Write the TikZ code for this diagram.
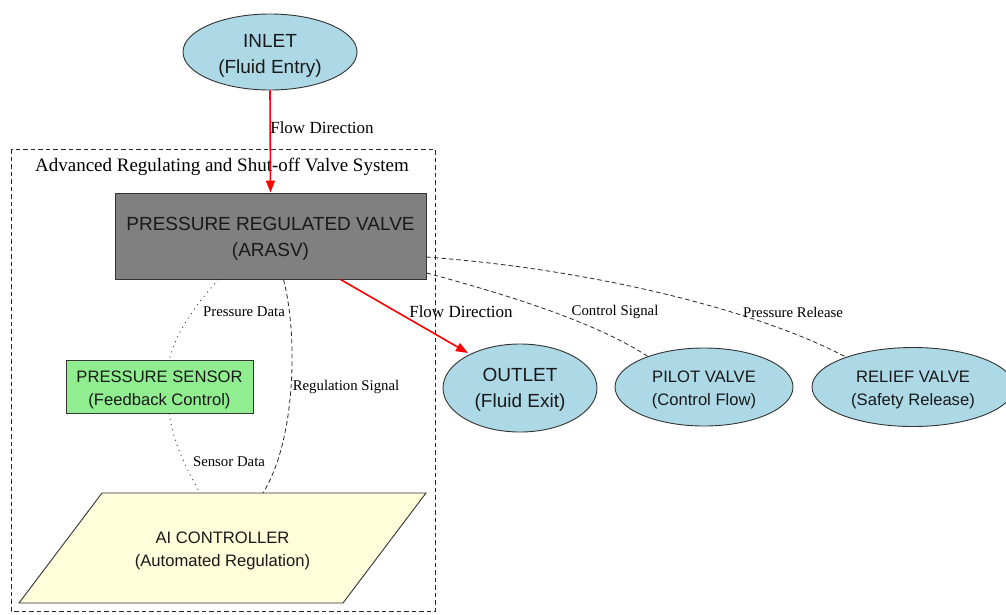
\documentclass[tikz,border=0pt]{standalone}
\usepackage{fontspec}
\setmainfont{Liberation Serif}
\setsansfont{Liberation Sans}
\usetikzlibrary{shapes.geometric,arrows.meta,calc}
\definecolor{lblue}{HTML}{ADD8E6}
\definecolor{lgreen}{HTML}{90EE90}
\definecolor{lyellow}{HTML}{FFFDDA}
\definecolor{prvgray}{HTML}{808080}
\definecolor{bord}{HTML}{333333}
\begin{document}
\begin{tikzpicture}[x=1pt,y=-1pt,
  ell/.style={ellipse, draw=bord, line width=0.9pt, fill=lblue, inner sep=0pt},
  bigtxt/.style={font=\sffamily\fontsize{19}{26}\selectfont, align=center, text=black!90, inner sep=0pt},
  smalltxt/.style={font=\sffamily\fontsize{16.6}{23}\selectfont, align=center, text=black!90, inner sep=0pt},
  boxnode/.style={rectangle, draw=bord, line width=0.9pt, inner sep=0pt},
  flow/.style={draw=red, line width=1.6pt, -{Triangle[length=12pt,width=9pt]}},
  flowlab/.style={font=\fontsize{17}{20}\selectfont, inner sep=0pt},
  elab/.style={font=\fontsize{14.8}{17}\selectfont, inner sep=0pt},
  dsh/.style={draw=black!85, line width=0.8pt, dash pattern=on 4.5pt off 3pt},
  dot/.style={draw=black!85, line width=0.9pt, dash pattern=on 0.9pt off 4.5pt}
]
\useasboundingbox (0,0) rectangle (1006,614);
\fill[white] (0,0) rectangle (1006,614);

% cluster
\draw[dsh, line width=0.8pt] (11,149) rectangle (435,611);
\node[font=\fontsize{19}{22}\selectfont, inner sep=0pt] (clab) at (222,167) {Advanced Regulating and Shut-off Valve System};

% nodes
\node[ell, minimum width=174pt, minimum height=76pt,
  label={[bigtxt, yshift=-3.5pt]center:INLET\\(Fluid Entry)}] (inlet) at (270,52) {};
\node[boxnode, fill=prvgray, minimum width=311pt, minimum height=86pt,
  label={[bigtxt, yshift=-2.5pt]center:PRESSURE REGULATED VALVE\\(ARASV)}] (prv) at (270.5,236) {};
\node[boxnode, fill=lgreen, minimum width=187pt, minimum height=53pt,
  label={[smalltxt, yshift=-3pt]center:PRESSURE SENSOR\\(Feedback Control)}] (sensor) at (159.5,386.5) {};
\filldraw[draw=bord, line width=0.9pt, fill=lyellow] (102,493) -- (426,493) -- (343,603) -- (19,603) -- cycle;
\node[smalltxt] (ai) at (222.5,550.5) {AI CONTROLLER\\(Automated Regulation)};
\node[ell, minimum width=154pt, minimum height=88pt,
  label={[bigtxt, yshift=-2pt]center:OUTLET\\(Fluid Exit)}] (outlet) at (520,388) {};
\node[ell, minimum width=178pt, minimum height=78pt,
  label={[smalltxt, yshift=-3pt]center:PILOT VALVE\\(Control Flow)}] (pilot) at (704,387) {};
\node[ell, minimum width=202pt, minimum height=79pt,
  label={[smalltxt, yshift=-3pt]center:RELIEF VALVE\\(Safety Release)}] (relief) at (913,387) {};

% anchor coordinates
\coordinate (aitop1) at ($(ai)+(-22.5,-57.5)$);
\coordinate (aitop2) at ($(ai)+(40.5,-57.5)$);
\coordinate (outin) at ($(outlet.center)+(-52,-35)$);
\coordinate (pilotin) at ($(pilot.north)+(-56,9)$);
\coordinate (reliefin) at ($(relief.north)+(-68,9.5)$);

% flow edges
\draw[flow] (inlet.south) -- (prv.north);
\node[flowlab] (fl1) at (322,128) {Flow Direction};
\draw[flow] ($(prv.south)+(70,0)$) -- (outin);
\node[flowlab] (fl2) at (461,312) {Flow Direction};

% signal edges
\draw[dsh] ($(prv.east)+(0,37)$) .. controls (520,298) and (600,325) .. (pilotin);
\node[elab] (cs) at (615,312) {Control Signal};
\draw[dsh] ($(prv.east)+(0,21)$) .. controls (600,270) and (760,312) .. (reliefin);
\node[elab] (pr) at (793,312) {Pressure Release};

\draw[dot] ($(prv.south)+(-52,0)$) .. controls (200,300) and (176,330) .. ($(sensor.north)+(10,0)$);
\node[elab] (pd) at (244,312) {Pressure Data};
\draw[dot] ($(sensor.south)+(10,0)$) .. controls (172,440) and (186,468) .. (aitop1);
\node[elab] (sd) at (229,462) {Sensor Data};
\draw[dsh] ($(prv.south)+(13,0)$) .. controls (298,335) and (296,440) .. (aitop2);
\node[elab] (rs) at (346,387) {Regulation Signal};
\end{tikzpicture}
\end{document}
